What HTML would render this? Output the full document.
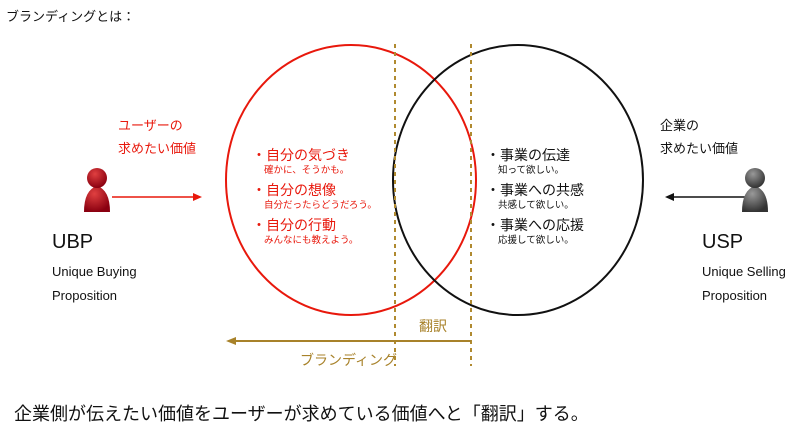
<!DOCTYPE html>
<html><head><meta charset="utf-8"><style>
body{margin:0;width:812px;height:438px;background:#fff;font-family:"Liberation Sans","Noto Sans CJK JP",sans-serif;position:relative;overflow:hidden}
.t{position:absolute;white-space:nowrap}
</style></head><body>
<svg width="812" height="438" style="position:absolute;left:0;top:0">
<defs>
<radialGradient id="rg" cx="0.4" cy="0.3" r="0.7"><stop offset="0" stop-color="#e04040"/><stop offset="1" stop-color="#8a0010"/></radialGradient>
<radialGradient id="gg" cx="0.4" cy="0.3" r="0.7"><stop offset="0" stop-color="#999"/><stop offset="1" stop-color="#333"/></radialGradient>
</defs>
<ellipse cx="351" cy="180" rx="125" ry="135" fill="none" stroke="#e8180c" stroke-width="2"/>
<ellipse cx="518" cy="180" rx="125" ry="135" fill="none" stroke="#111" stroke-width="2"/>
<line x1="395" y1="44" x2="395" y2="366" stroke="#b08a30" stroke-width="2" stroke-dasharray="4,4"/>
<line x1="471" y1="44" x2="471" y2="366" stroke="#b08a30" stroke-width="2" stroke-dasharray="4,4"/>
<line x1="471" y1="341" x2="234" y2="341" stroke="#a8822a" stroke-width="2"/>
<polygon points="226,341 236,337 236,345" fill="#a8822a"/>
<line x1="112" y1="197" x2="195" y2="197" stroke="#e8180c" stroke-width="1.5"/>
<polygon points="202,197 193,193 193,201" fill="#e8180c"/>
<line x1="745" y1="197" x2="672" y2="197" stroke="#111" stroke-width="1.5"/>
<polygon points="665,197 674,193 674,201" fill="#111"/>
<path d="M84,212 Q84,190 97,186 Q110,190 110,212 Z" fill="url(#rg)"/>
<circle cx="97" cy="178" r="10" fill="url(#rg)"/>
<path d="M742,212 Q742,190 755,186 Q768,190 768,212 Z" fill="url(#gg)"/>
<circle cx="755" cy="178" r="10" fill="url(#gg)"/>
</svg>
<div class="t" style="left:6px;top:6px;font-size:13px;color:#111">ブランディングとは：</div>
<div class="t" style="left:118px;top:114px;font-size:13px;color:#e8180c;line-height:23px">ユーザーの<br>求めたい価値</div>
<div class="t" style="left:660px;top:114px;font-size:13px;color:#111;line-height:23px">企業の<br>求めたい価値</div>
<div class="t" style="left:52px;top:231px;font-size:20px;color:#111">UBP</div>
<div class="t" style="left:52px;top:260px;font-size:13px;color:#111;line-height:24px">Unique Buying<br>Proposition</div>
<div class="t" style="left:702px;top:231px;font-size:20px;color:#111">USP</div>
<div class="t" style="left:702px;top:260px;font-size:13px;color:#111;line-height:24px">Unique Selling<br>Proposition</div>
<div class="t" style="left:252px;top:146px;color:#e8180c">
<div style="font-size:14px;line-height:18px">・自分の気づき</div><div style="font-size:9.5px;margin-left:12px;line-height:14px">確かに、そうかも。</div>
<div style="font-size:14px;line-height:18px;margin-top:3px">・自分の想像</div><div style="font-size:9.5px;margin-left:12px;line-height:14px">自分だったらどうだろう。</div>
<div style="font-size:14px;line-height:18px;margin-top:3px">・自分の行動</div><div style="font-size:9.5px;margin-left:12px;line-height:14px">みんなにも教えよう。</div>
</div>
<div class="t" style="left:486px;top:146px;color:#111">
<div style="font-size:14px;line-height:18px">・事業の伝達</div><div style="font-size:9.5px;margin-left:12px;line-height:14px">知って欲しい。</div>
<div style="font-size:14px;line-height:18px;margin-top:3px">・事業への共感</div><div style="font-size:9.5px;margin-left:12px;line-height:14px">共感して欲しい。</div>
<div style="font-size:14px;line-height:18px;margin-top:3px">・事業への応援</div><div style="font-size:9.5px;margin-left:12px;line-height:14px">応援して欲しい。</div>
</div>
<div class="t" style="left:419px;top:316px;font-size:14px;color:#a8822a">翻訳</div>
<div class="t" style="left:300px;top:350px;font-size:14px;color:#a8822a">ブランディング</div>
<div class="t" style="left:14px;top:400px;font-size:18px;color:#111">企業側が伝えたい価値をユーザーが求めている価値へと「翻訳」する。</div>
</body></html>
